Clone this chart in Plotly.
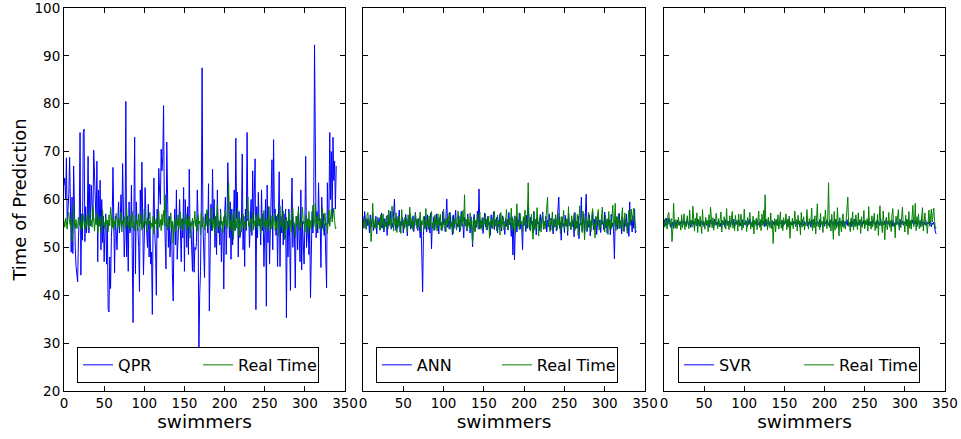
import plotly.graph_objects as go

# values (one per swimmer)
real_time = [
    55.6, 54.2, 56.1, 55.0, 53.8, 56.9, 57.3, 55.2, 54.6, 56.0, 51.2, 53.5, 59.2, 55.1, 54.0, 55.8, 53.9, 54.4, 56.3, 54.7,
    55.3, 53.6, 56.8, 54.1, 55.9, 57.0, 53.7, 55.4, 54.3, 56.6, 55.0, 53.9, 57.8, 54.8, 55.6, 54.2, 58.6, 55.3, 53.4, 56.1,
    54.7, 57.2, 53.1, 55.8, 54.4, 56.5, 55.1, 52.9, 57.9, 54.6, 55.2, 53.8, 56.3, 54.9, 55.7, 53.3, 56.8, 54.5, 58.4, 55.0,
    54.1, 56.2, 53.6, 55.5, 54.8, 57.1, 55.3, 53.9, 56.0, 54.3, 55.8, 57.4, 53.2, 55.6, 54.7, 56.4, 55.1, 53.8, 58.1, 54.6,
    55.4, 53.7, 56.6, 54.2, 55.9, 57.5, 54.0, 55.2, 53.5, 56.7, 54.9, 55.7, 53.4, 57.0, 54.4, 55.8, 56.9, 53.6, 55.3, 54.1,
    58.0, 54.8, 55.5, 53.3, 56.2, 54.7, 55.9, 57.3, 53.8, 55.1, 54.3, 56.5, 52.8, 55.6, 54.9, 56.1, 53.7, 55.4, 57.6, 54.2,
    55.8, 53.5, 56.9, 54.6, 57.7, 55.2, 61.0, 54.4, 55.9, 53.6, 56.3, 55.0, 54.1, 57.2, 53.9, 55.5, 50.8, 54.7, 56.0, 53.2,
    55.7, 54.5, 56.8, 53.8, 55.3, 57.4, 54.0, 55.6, 53.5, 56.2, 54.8, 55.1, 57.0, 53.7, 55.9, 54.3, 56.5, 51.9, 55.4, 54.6,
    56.1, 53.9, 55.2, 57.6, 54.4, 55.8, 53.4, 56.7, 54.9, 55.5, 52.6, 57.3, 54.2, 55.7, 56.4, 53.6, 55.0, 54.5, 57.9, 55.3,
    53.8, 56.0, 54.7, 55.4, 58.2, 53.5, 55.9, 54.1, 56.6, 52.8, 55.6, 59.1, 54.3, 55.2, 53.7, 57.1, 54.8, 55.5, 53.1, 56.4,
    54.6, 57.8, 55.1, 53.9, 56.3, 63.5, 54.2, 55.7, 53.4, 56.9, 54.5, 51.7, 57.5, 53.6, 55.8, 54.0, 58.3, 55.3, 52.4, 56.2,
    54.7, 53.2, 55.9, 57.0, 54.1, 55.5, 53.8, 56.7, 58.0, 60.5, 54.4, 55.2, 53.3, 56.1, 54.9, 57.4, 53.6, 55.6, 54.3, 56.8,
    55.0, 53.7, 57.2, 54.6, 55.8, 52.9, 56.4, 54.2, 55.3, 57.7, 53.9, 55.6, 54.8, 56.0, 53.4, 58.5, 54.5, 55.1, 53.8, 56.6,
    54.3, 55.9, 57.1, 53.5, 55.4, 54.0, 56.9, 52.5, 55.7, 58.7, 54.6, 55.2, 53.1, 57.6, 54.8, 51.6, 55.5, 56.3, 53.7, 54.9,
    57.3, 54.2, 55.6, 53.3, 56.8, 58.1, 54.4, 55.0, 52.0, 56.5, 54.7, 55.8, 57.9, 53.6, 55.3, 54.1, 56.2, 58.4, 54.9, 55.4,
    53.2, 56.7, 54.5, 55.9, 52.7, 57.5, 54.0, 55.6, 53.8, 56.1, 58.8, 54.3, 55.2, 59.2, 53.5, 56.4, 54.8, 57.0, 53.9, 55.7,
    54.2, 56.6, 58.3, 53.4, 55.5, 57.2, 54.6, 55.1, 52.9, 56.0, 57.8, 54.4, 55.9, 58.0, 55.3, 56.5, 58.2, 55.6, 53.9, 54.2,
]

qpr = [
    63.0, 64.5, 60.0, 68.7, 55.0, 58.5, 61.0, 68.8, 58.8, 49.0,
    60.5, 48.7, 67.0, 53.5, 50.0, 46.0, 43.0, 42.8, 52.0, 55.5,
    74.0, 44.2, 57.0, 51.5, 74.0, 74.7, 51.2, 58.5, 53.0, 56.0,
    69.0, 53.0, 63.2, 54.5, 63.0, 58.0, 55.5, 70.3, 63.5, 60.5,
    55.0, 68.0, 47.0, 62.0, 54.5, 64.0, 49.5, 60.0, 51.0, 56.5,
    47.0, 53.5, 57.0, 46.5, 55.0, 37.0, 36.5, 48.0, 41.4, 52.0,
    56.0, 66.7, 53.0, 44.7, 56.5, 53.5, 49.5, 55.8, 59.5, 53.0,
    55.5, 61.0, 55.0, 67.5, 53.5, 48.0, 52.0, 80.5, 48.0, 56.5,
    45.0, 59.5, 53.0, 54.0, 63.0, 52.5, 34.3, 57.0, 73.0, 44.5,
    59.5, 55.0, 54.0, 50.0, 40.8, 62.0, 55.0, 67.8, 50.5, 44.3,
    52.0, 62.5, 56.5, 54.0, 50.0, 59.0, 48.0, 55.5, 46.5, 49.0,
    36.0, 56.0, 64.5, 53.0, 49.5, 40.0, 58.0, 52.0, 66.5, 62.0,
    59.0, 70.5, 66.0, 69.0, 79.6, 58.0, 52.0, 45.5, 72.0, 55.0,
    50.0, 56.5, 48.0, 52.5, 55.0, 44.5, 38.8, 53.0, 58.0, 50.5,
    62.0, 47.5, 54.0, 55.5, 60.0, 49.0, 47.0, 56.0, 52.0, 62.5,
    45.0, 60.0, 54.5, 50.0, 58.5, 48.5, 66.3, 53.0, 55.0, 48.0,
    45.0, 55.5, 44.8, 50.0, 49.5, 51.0, 62.0, 56.0, 28.0, 40.0,
    45.0, 58.0, 87.5, 55.0, 50.0, 43.7, 57.0, 55.0, 57.5, 53.0,
    63.3, 36.7, 48.0, 59.0, 53.5, 66.3, 55.0, 60.0, 50.0, 56.5,
    48.5, 62.0, 53.0, 55.5, 50.5, 58.0, 47.0, 54.0, 53.5, 41.3,
    56.0, 60.5, 48.5, 55.0, 67.7, 57.5, 52.0, 59.5, 47.5, 58.0,
    50.5, 55.0, 62.0, 53.5, 72.8, 56.0, 61.5, 48.0, 57.5, 52.0,
    53.0, 55.5, 69.5, 49.5, 56.5, 46.0, 58.0, 53.5, 74.0, 55.5,
    57.5, 50.0, 55.0, 60.0, 52.5, 66.0, 55.0, 63.0, 68.5, 37.0,
    58.5, 52.0, 61.5, 54.5, 56.0, 50.5, 62.0, 53.5, 57.0, 46.0,
    56.0, 60.0, 37.7, 63.0, 51.0, 58.5, 46.5, 55.0, 60.0, 68.3,
    49.5, 72.5, 57.0, 58.0, 52.5, 56.5, 46.0, 53.5, 65.8, 46.0,
    56.5, 53.0, 60.0, 50.5, 57.0, 52.0, 58.0, 35.3, 55.5, 48.0,
    58.0, 52.0, 41.0, 57.0, 64.5, 50.0, 55.5, 53.5, 41.5, 54.0,
    56.5, 49.5, 58.5, 52.0, 47.0, 62.0, 45.3, 55.5, 48.0, 46.5,
    55.0, 69.0, 50.0, 53.0, 56.0, 48.5, 54.5, 39.5, 55.0, 57.5,
    53.0, 58.0, 92.3, 55.0, 52.0, 57.5, 53.0, 63.5, 55.5, 56.0,
    45.8, 60.5, 54.0, 57.0, 52.5, 55.0, 49.5, 41.5, 63.5, 55.0,
    58.0, 74.0, 60.0, 70.0, 56.0, 73.0, 64.0, 68.0, 58.0, 67.0,
]

ann = [
    56.5, 54.0, 57.5, 55.2, 53.8, 56.0, 54.5, 55.8, 53.0, 56.8,
    54.2, 55.5, 57.0, 53.5, 55.0, 54.3, 56.5, 52.8, 55.6, 54.8,
    56.2, 53.6, 55.3, 57.2, 54.0, 55.8, 53.2, 56.0, 54.6, 55.4,
    52.5, 56.8, 54.4, 55.5, 57.5, 53.8, 55.1, 54.2, 56.3, 60.1,
    55.0, 53.5, 56.5, 54.0, 55.7, 57.8, 53.2, 55.4, 54.6, 56.2,
    53.0, 55.8, 54.2, 56.9, 55.3, 52.4, 55.9, 54.5, 57.0, 53.8,
    55.5, 54.0, 56.6, 53.3, 55.2, 57.3, 54.6, 55.8, 53.5, 56.0,
    54.3, 52.0, 55.5, 48.0, 40.7, 52.5, 56.5, 54.0, 55.3, 53.2,
    56.8, 54.5, 55.7, 53.0, 57.2, 49.7, 55.0, 54.2, 56.4, 53.6,
    55.5, 57.0, 54.0, 55.8, 52.8, 56.2, 54.6, 55.3, 53.5, 57.5,
    54.8, 55.9, 53.3, 56.5, 60.1, 54.2, 55.6, 53.8, 57.3, 54.5,
    55.2, 52.6, 56.8, 54.0, 55.5, 57.8, 53.6, 55.0, 54.3, 56.6,
    53.2, 55.7, 57.5, 54.4, 55.0, 52.0, 56.3, 54.8, 55.5, 53.4,
    57.0, 54.6, 55.2, 53.0, 56.4, 54.0, 50.1, 55.8, 56.9, 53.5,
    55.3, 54.2, 57.6, 55.0, 62.2, 53.8, 55.6, 54.1, 56.2, 52.9,
    55.5, 57.2, 54.3, 55.9, 53.6, 56.5, 54.7, 55.2, 52.5, 56.8,
    54.0, 55.4, 57.4, 53.7, 55.8, 54.5, 56.3, 53.0, 55.6, 54.2,
    57.0, 55.1, 53.4, 56.6, 54.8, 55.5, 52.7, 56.0, 54.4, 55.8,
    53.6, 57.3, 54.9, 55.2, 52.3, 56.4, 48.4, 55.0, 47.4, 54.0,
    56.5, 53.2, 55.8, 54.5, 57.2, 53.8, 55.4, 54.2, 49.5, 56.0,
    54.6, 55.9, 53.3, 56.7, 54.0, 58.5, 55.2, 53.7, 56.3, 54.8,
    55.5, 53.0, 57.5, 54.3, 55.8, 52.6, 56.2, 54.9, 55.3, 53.5,
    56.9, 54.1, 55.6, 57.4, 53.8, 55.1, 54.5, 56.5, 53.2, 55.7,
    54.3, 57.0, 55.4, 53.6, 56.1, 54.7, 52.8, 55.9, 54.2, 56.8,
    53.4, 55.5, 57.6, 60.5, 54.0, 55.3, 51.5, 56.4, 54.6, 55.0,
    53.1, 56.7, 54.4, 55.8, 52.5, 57.1, 54.9, 55.2, 53.7, 56.0,
    54.5, 55.6, 52.2, 57.3, 53.9, 55.4, 54.1, 56.6, 51.8, 55.0,
    54.7, 60.5, 53.5, 55.9, 57.0, 52.9, 56.2, 61.1, 53.3, 55.5,
    54.2, 56.8, 52.4, 55.3, 54.6, 57.5, 53.7, 55.9, 54.0, 56.3,
    52.7, 55.2, 57.2, 54.4, 55.7, 53.1, 56.5, 54.8, 55.4, 53.6,
    57.4, 54.1, 55.6, 53.0, 56.0, 54.5, 55.8, 52.6, 56.9, 54.3,
    55.1, 53.4, 47.6, 55.7, 54.2, 56.4, 53.8, 55.3, 57.1, 54.0,
    55.5, 52.8, 56.2, 54.6, 53.3, 55.9, 54.4, 57.0, 53.5, 55.2,
    52.3, 59.5, 54.7, 55.8, 53.2, 56.6, 54.0, 58.0, 53.0, 53.5,
]

svr = [
    55.0, 55.8, 54.6, 56.1, 55.3, 54.8, 56.1, 55.5, 54.2, 55.0,
    54.5, 55.3, 54.0, 55.6, 54.8, 55.2, 54.4, 55.7, 55.0, 54.6,
    55.4, 54.9, 55.8, 54.3, 55.1, 55.6, 54.7, 55.3, 54.5, 55.9,
    55.0, 54.6, 55.5, 54.2, 55.2, 55.7, 54.8, 55.4, 54.1, 55.6,
    55.1, 54.5, 55.9, 54.9, 55.3, 54.4, 55.6, 55.0, 54.7, 55.5,
    54.3, 55.2, 55.8, 54.6, 55.1, 54.8, 55.4, 54.2, 55.7, 55.0,
    54.9, 55.5, 54.4, 55.9, 55.2, 54.6, 55.3, 54.8, 55.6, 54.5,
    55.1, 54.3, 55.7, 55.0, 54.7, 55.4, 54.2, 55.8, 55.1, 54.6,
    55.5, 54.9, 55.2, 54.4, 55.6, 55.0, 54.7, 55.9, 54.3, 55.3,
    54.8, 55.4, 54.6, 55.7, 55.1, 54.5, 55.3, 54.9, 55.8, 54.4,
    55.2, 54.7, 55.6, 55.0, 54.3, 55.5, 54.8, 55.9, 55.1, 54.6,
    55.4, 54.2, 55.7, 54.9, 55.3, 54.5, 55.8, 55.0, 54.7, 55.2,
    54.4, 55.6, 55.1, 54.8, 55.5, 54.3, 55.9, 54.6, 55.2, 54.9,
    55.7, 54.5, 55.3, 55.0, 54.2, 55.6, 54.8, 55.4, 54.6, 55.1,
    55.8, 54.7, 55.2, 54.4, 55.5, 55.0, 54.9, 55.7, 54.3, 55.3,
    54.8, 55.6, 55.1, 54.5, 55.4, 54.2, 55.9, 54.7, 55.2, 55.0,
    54.6, 55.5, 54.9, 55.3, 54.4, 55.7, 55.0, 54.8, 55.6, 54.3,
    55.2, 54.7, 55.8, 55.1, 54.5, 55.4, 54.9, 55.0, 55.6, 54.4,
    55.3, 54.8, 55.5, 54.2, 55.7, 55.0, 54.6, 55.9, 54.9, 55.2,
    54.5, 55.4, 55.1, 54.7, 55.8, 54.3, 55.2, 55.0, 54.8, 55.6,
    54.4, 55.3, 54.9, 55.7, 55.1, 54.6, 55.5, 54.2, 55.8, 55.0,
    54.7, 55.4, 54.5, 55.2, 55.9, 54.8, 55.3, 54.3, 55.6, 55.0,
    54.9, 55.5, 54.4, 55.7, 55.1, 54.6, 55.2, 54.8, 55.8, 54.5,
    55.3, 55.0, 54.7, 55.6, 54.3, 55.4, 54.9, 55.9, 55.1, 54.6,
    55.5, 54.4, 55.2, 54.8, 55.7, 55.0, 54.5, 55.3, 54.9, 55.6,
    54.2, 55.4, 55.1, 54.7, 55.8, 54.6, 55.3, 54.9, 55.5, 54.4,
    55.7, 55.0, 54.8, 55.2, 54.3, 55.6, 54.9, 55.4, 54.6, 55.1,
    55.9, 54.5, 55.3, 55.0, 54.7, 55.5, 54.2, 55.8, 55.1, 54.8,
    55.4, 54.6, 55.2, 54.9, 55.7, 54.4, 55.3, 55.0, 54.5, 55.6,
    54.8, 55.4, 55.1, 54.3, 55.9, 54.7, 55.2, 55.5, 54.6, 55.0,
    55.3, 54.9, 55.7, 54.4, 55.1, 55.6, 54.8, 55.2, 54.5, 55.8,
    55.0, 54.7, 55.4, 54.9, 55.6, 54.3, 55.2, 55.5, 54.8, 55.1,
    54.6, 55.9, 55.0, 54.4, 55.3, 54.8, 55.7, 54.5, 55.2, 54.9,
    55.4, 54.7, 55.6, 54.3, 55.1, 54.8, 55.3, 54.0, 53.2, 52.8,
]

panels = [("QPR", qpr), ("ANN", ann), ("SVR", svr)]

BLUE = "#0000ff"
GREEN = "#008000"
FONT = "DejaVu Sans"

# plot area: 64..945 px wide, panels at 64-345, 363-645, 664-945
domains = [[0.0, 0.319], [0.3394, 0.6595], [0.681, 1.0]]
legend_x = [0.0148, 0.354, 0.697]

fig = go.Figure()

for i, (name, values) in enumerate(panels):
    suffix = "" if i == 0 else str(i + 1)
    legend_name = "legend" + suffix
    fig.add_trace(go.Scatter(
        x=list(range(len(values))), y=values, mode="lines", name=name,
        line=dict(color=BLUE, width=1), xaxis="x" + suffix, yaxis="y" + suffix,
        legend=legend_name,
    ))
    fig.add_trace(go.Scatter(
        x=list(range(len(real_time))), y=real_time, mode="lines", name="Real Time",
        line=dict(color=GREEN, width=1), xaxis="x" + suffix, yaxis="y" + suffix,
        legend=legend_name,
    ))

    axis_common = dict(
        showline=True, linecolor="black", linewidth=1, mirror="ticks",
        ticks="inside", ticklen=5, tickcolor="black", showgrid=False, zeroline=False,
        tickfont=dict(family=FONT, size=13.5, color="black"), automargin=False,
        ticklabeloverflow="allow",
    )
    fig.update_layout({
        "xaxis" + suffix: dict(
            domain=domains[i], range=[0, 350], dtick=50, anchor="y" + suffix,
            title=dict(text="swimmers", font=dict(family=FONT, size=18.5, color="black"), standoff=2),
            **axis_common,
        ),
        "yaxis" + suffix: dict(
            range=[20, 100], dtick=10, anchor="x" + suffix,
            showticklabels=(i == 0),
            title=dict(text="Time of Prediction" if i == 0 else "",
                       font=dict(family=FONT, size=18, color="black"), standoff=3),
            **axis_common,
        ),
        legend_name: dict(
            x=legend_x[i], y=0.021, xanchor="left", yanchor="bottom",
            orientation="h", bgcolor="white", bordercolor="black", borderwidth=1,
            font=dict(family=FONT, size=16, color="black"),
            entrywidth=75, traceorder="normal",
        ),
    })

fig.update_layout(
    width=961, height=439,
    margin=dict(l=64, r=16, t=8, b=48),
    plot_bgcolor="white", paper_bgcolor="white",
    font=dict(family=FONT, color="black"),
)

# the page body has a default 8px margin; drop it so the figure fills the window
fig.write_html(
    "out.html",
    config={"displayModeBar": False},
    post_script="document.body.style.margin = '0';",
)
